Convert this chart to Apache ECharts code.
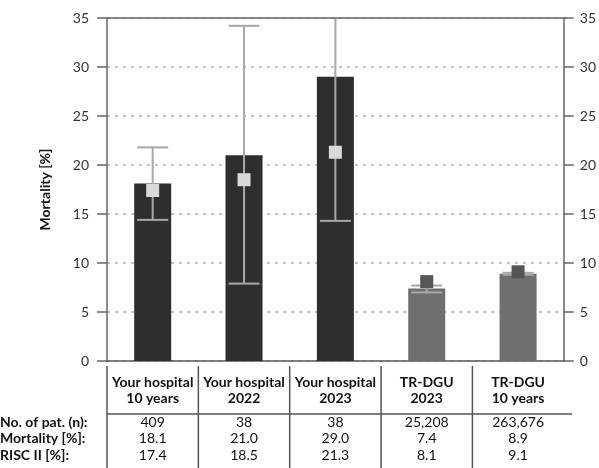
<!DOCTYPE html>
<html>
<head>
<meta charset="utf-8">
<script src="https://cdn.jsdelivr.net/npm/echarts@6/dist/echarts.min.js"></script>
<style>html,body{margin:0;padding:0;background:#fff}#c{width:599px;height:468px}</style>
</head>
<body>
<div id="c"></div>
<script>
var categories = ['Your hospital\n10 years', 'Your hospital\n2022', 'Your hospital\n2023', 'TR-DGU\n2023', 'TR-DGU\n10 years'];
var mortality = [18.1, 21.0, 29.0, 7.4, 8.9];
var risc = [17.4, 18.5, 21.3, 8.1, 9.1];
var ciLow = [14.4, 7.9, 14.3, 7.0, 8.8];
var ciHigh = [21.8, 34.2, 37.0, 7.7, 9.0];
var patients = ['409', '38', '38', '25,208', '263,676'];
var mortalityText = ['18.1', '21.0', '29.0', '7.4', '8.9'];
var riscText = ['17.4', '18.5', '21.3', '8.1', '9.1'];
var rowLabels = ['No. of pat. (n):', 'Mortality [%]:', 'RISC II [%]:'];
var yTicks = [0, 5, 10, 15, 20, 25, 30, 35];

var FONT = 'Lato, "Open Sans", sans-serif';
var FS = 14;
var isRef = [false, false, false, true, true];
var barColors = isRef.map(function (r) { return r ? '#6f6f6f' : '#2e2e2e'; });
var sqColors = isRef.map(function (r) { return r ? '#555555' : '#d9d9d9'; });

var chart = echarts.init(document.getElementById('c'), null, {renderer: 'canvas'});

function rowAxis(values, offset) {
  return {
    type: 'category', data: categories, position: 'bottom', offset: offset,
    axisLine: {show: false}, axisTick: {show: false},
    axisLabel: {
      margin: 0, interval: 0, fontFamily: FONT, fontSize: FS, color: '#111', lineHeight: 16,
      formatter: function (v, i) { return values[i]; }
    }
  };
}

var yBase = {
  type: 'value', min: 0, max: 35, interval: 5,
  axisLine: {show: true, lineStyle: {color: '#666', width: 1.5}},
  axisTick: {show: true, length: 10, inside: false, lineStyle: {color: '#666', width: 1.5}},
  axisLabel: {fontFamily: FONT, fontSize: FS, color: '#333'},
  splitLine: {show: false}
};

chart.setOption({
  animation: false,
  grid: {left: 107, right: 33, top: 18, bottom: 107, containLabel: false},
  xAxis: [
    {
      type: 'category', data: categories,
      axisLine: {show: true, onZero: false, lineStyle: {color: '#555', width: 1.5}},
      axisTick: {show: false},
      axisLabel: {interval: 0, margin: 13, fontFamily: FONT, fontSize: FS, fontWeight: 'bold', color: '#111', lineHeight: 16}
    },
    rowAxis(patients, 53),
    rowAxis(mortalityText, 69.5),
    rowAxis(riscText, 86)
  ],
  yAxis: [
    Object.assign({}, yBase, {
      position: 'left',
      name: 'Mortality [%]', nameLocation: 'middle', nameGap: 55,
      nameTextStyle: {fontFamily: FONT, fontSize: FS, fontWeight: 'bold', color: '#111'},
      axisLabel: Object.assign({}, yBase.axisLabel, {margin: 18}),
      splitLine: {show: true, lineStyle: {color: '#c4c4c4', width: 2, type: [3, 5]}}
    }),
    Object.assign({}, yBase, {
      position: 'right',
      axisLabel: Object.assign({}, yBase.axisLabel, {margin: 16})
    })
  ],
  series: [
    {
      type: 'bar', barWidth: 37, xAxisIndex: 0, yAxisIndex: 0,
      data: mortality.map(function (v, i) { return {value: v, itemStyle: {color: barColors[i]}}; }),
      z: 2
    },
    {
      type: 'custom', xAxisIndex: 0, yAxisIndex: 0, clip: true, z: 3,
      data: ciLow.map(function (l, i) { return [i, l, ciHigh[i]]; }),
      renderItem: function (params, api) {
        var x = api.value(0);
        var lo = api.coord([x, api.value(1)]);
        var hi = api.coord([x, api.value(2)]);
        var hw = 15.5;
        var st = {stroke: '#a8a8a8', lineWidth: 2};
        return {
          type: 'group',
          children: [
            {type: 'line', shape: {x1: lo[0], y1: lo[1], x2: hi[0], y2: hi[1]}, style: st},
            {type: 'line', shape: {x1: lo[0] - hw, y1: lo[1], x2: lo[0] + hw, y2: lo[1]}, style: st},
            {type: 'line', shape: {x1: hi[0] - hw, y1: hi[1], x2: hi[0] + hw, y2: hi[1]}, style: st}
          ]
        };
      }
    },
    {
      type: 'scatter', xAxisIndex: 0, yAxisIndex: 0, symbol: 'rect', symbolSize: 13, z: 4,
      data: risc.map(function (v, i) { return {value: [i, v], itemStyle: {color: sqColors[i], opacity: 1}}; })
    }
  ]
});

function drawTable() {
  var centers = categories.map(function (c, i) { return chart.convertToPixel({xAxisIndex: 0}, i); });
  var bounds = [107];
  for (var i = 0; i < centers.length - 1; i++) bounds.push((centers[i] + centers[i + 1]) / 2);
  var ls = {stroke: '#555', lineWidth: 1.5};
  var els = bounds.map(function (x) {
    return {type: 'line', shape: {x1: x, y1: 366, x2: x, y2: 468}, style: ls, silent: true};
  });
  els.push({type: 'line', shape: {x1: 107, y1: 414, x2: 572, y2: 414}, style: ls, silent: true});
  var yTop = chart.convertToPixel({yAxisIndex: 0}, yTicks[yTicks.length - 1]);
  els.push({type: 'line', z: 10, shape: {x1: 107, y1: yTop, x2: 566, y2: yTop}, style: {stroke: '#666', lineWidth: 1.5}, silent: true});
  var rowY = [422, 438.5, 455];
  rowLabels.forEach(function (t, i) {
    els.push({type: 'text', x: 0, y: rowY[i], style: {text: t, fontFamily: FONT, fontSize: FS, fontWeight: 'bold', fill: '#111', align: 'left', verticalAlign: 'middle'}, silent: true});
  });
  chart.setOption({graphic: {elements: els}});
}
drawTable();
</script>
</body>
</html>
